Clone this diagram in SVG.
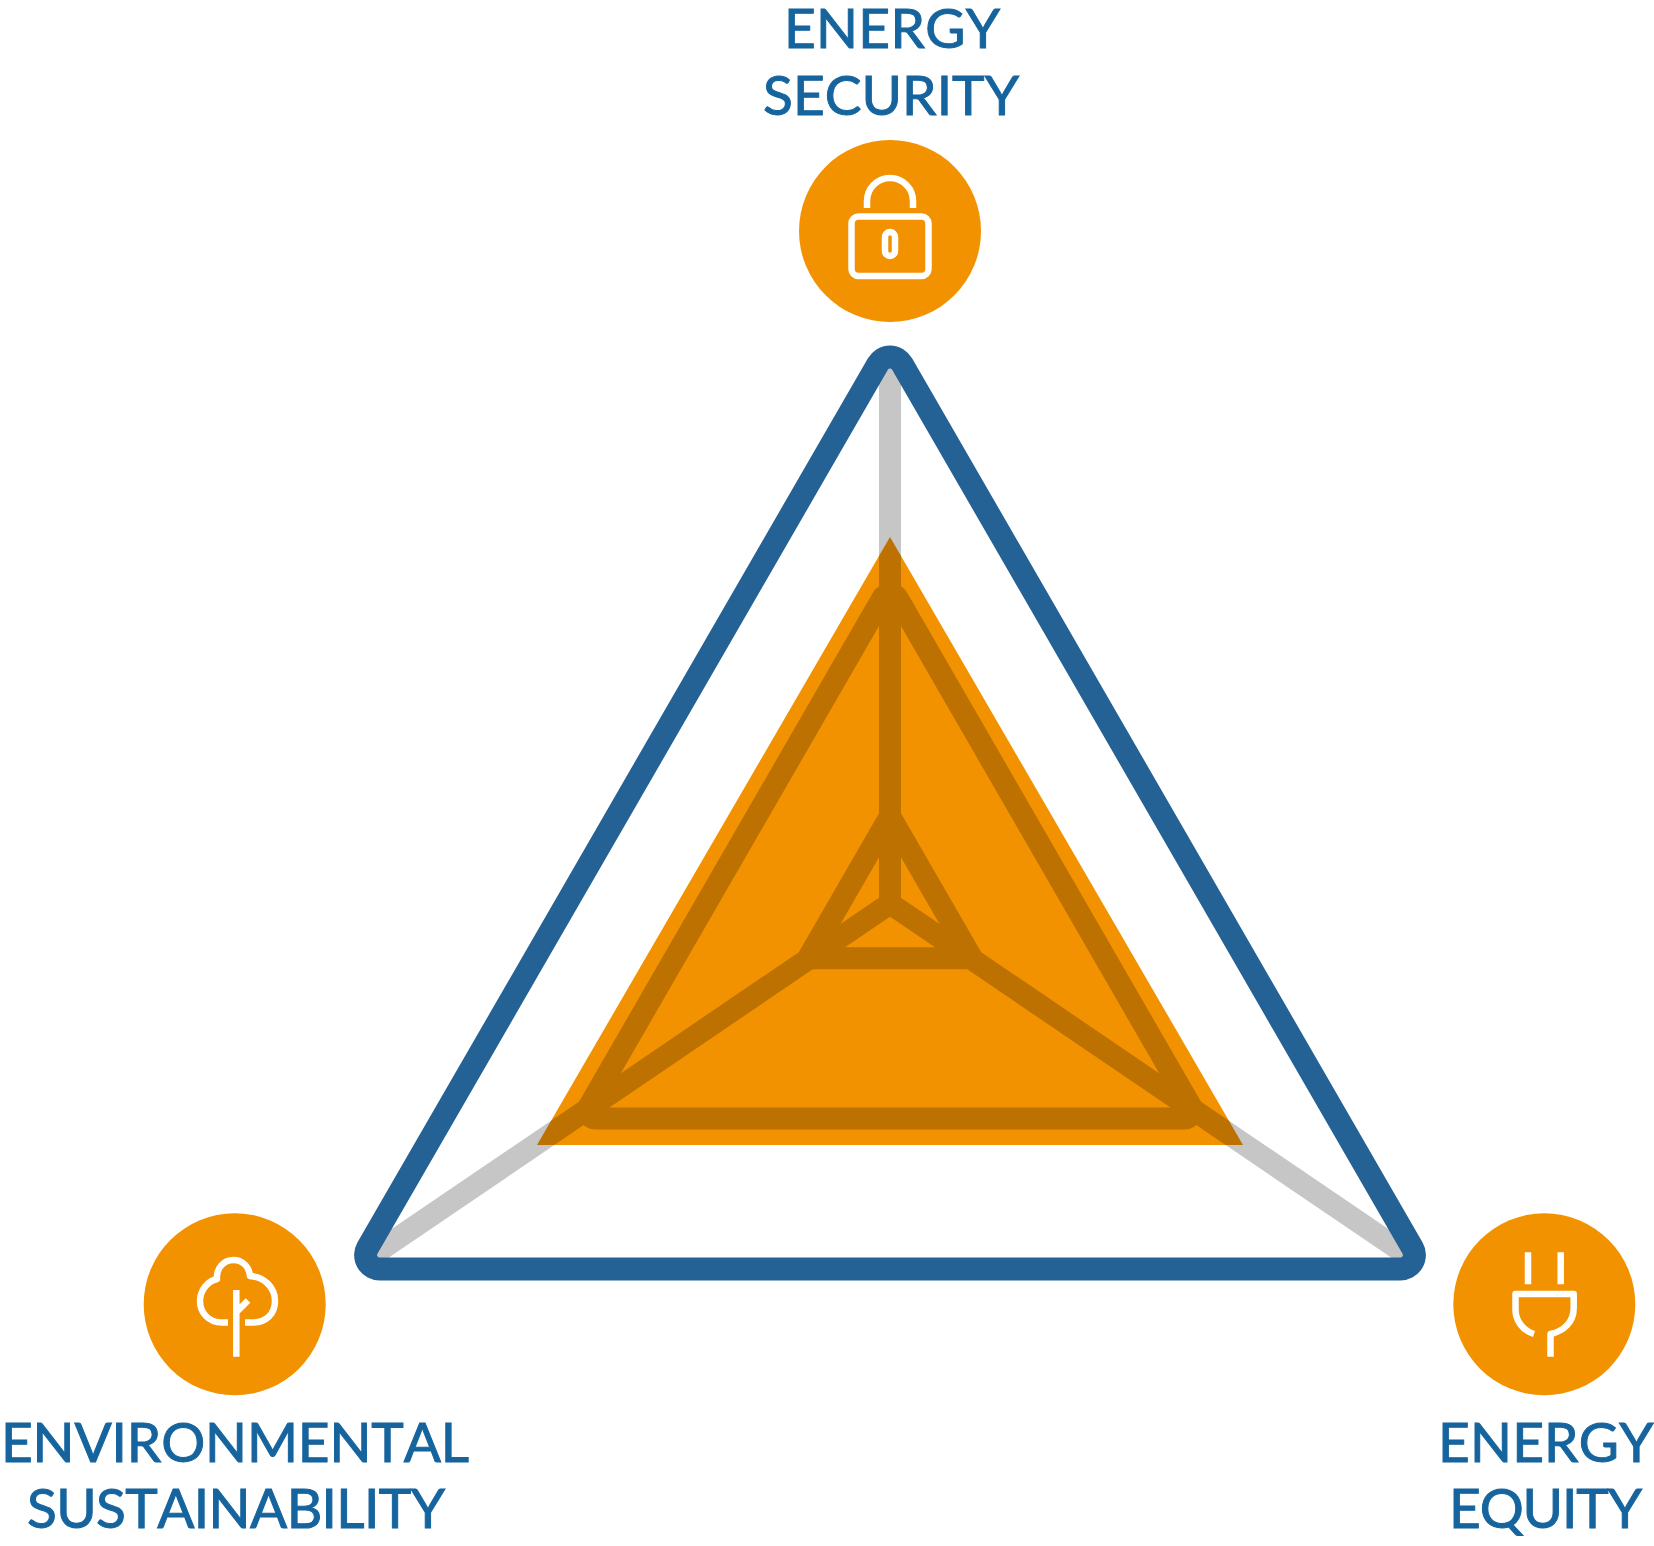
<svg xmlns="http://www.w3.org/2000/svg" width="1654" height="1546" viewBox="0 0 1654 1546">
<style>
.disc{fill:#f39200}
.icon{fill:none;stroke:#fff;stroke-width:6.5;stroke-linejoin:round}
.label{font-family:"Lato","Liberation Sans",sans-serif;font-size:55px;font-kerning:none;fill:#16649e;stroke:#16649e;stroke-width:1}
.grey{fill:none;stroke:#c6c6c6;stroke-width:22;stroke-linejoin:round}
</style>
<rect width="1654" height="1546" fill="#fff"/>
<g id="connectors">
<path class="grey" d="M890 903.5V360M890 903.5L1408 1255.7M890 903.5L372 1255.7"/>
<path class="grey" d="M897.8 598.5L1191.07 1106.5A8 8 0 0 1 1184.14 1118.5H595.86A8 8 0 0 1 588.93 1106.5L882.2 598.5A9 9 0 0 1 897.8 598.5Z"/>
<path class="grey" d="M890 816.3L972 958.3H808Z"/>
</g>
<polygon id="score-area" points="890,537 1243,1145 537,1145" fill="#f39200" style="mix-blend-mode:multiply"/>
<path id="outer-frame" fill="none" stroke="#246194" stroke-width="23" d="M902.1 364L1412.5 1248A14 14 0 0 1 1400.4 1269H379.6A14 14 0 0 1 367.5 1248L877.9 364A14 14 0 0 1 902.1 364Z"/>
<g id="energy-security">
<text class="label" x="784" y="48" textLength="216" lengthAdjust="spacing">ENERGY</text>
<text class="label" x="763" y="115" textLength="256" lengthAdjust="spacing">SECURITY</text>
<circle class="disc" cx="890" cy="231" r="91"/>
<path class="icon" d="M867 208V201A23 23 0 0 1 913 201V208"/>
<rect class="icon" x="851.5" y="216.5" width="77" height="59.5" rx="7"/>
<rect class="icon" x="885" y="232" width="10" height="24" rx="5"/>
</g>
<g id="environmental-sustainability">
<circle class="disc" cx="234.7" cy="1304.3" r="91"/>
<path class="icon" d="M228 1322.5H222C208 1322.5 200 1312 200 1301C200 1290 208 1281 217 1279C216 1268 224 1260 233.5 1260C242 1260 249 1266 250 1276C264 1277 275 1287 275 1301C275 1314 266 1322.5 253 1322.5H245"/>
<path class="icon" d="M236.3 1290V1356.7M236.5 1312L248 1300.5"/>
<text class="label" x="1" y="1461.7" textLength="468" lengthAdjust="spacing">ENVIRONMENTAL</text>
<text class="label" x="27" y="1528" textLength="418" lengthAdjust="spacing">SUSTAINABILITY</text>
</g>
<g id="energy-equity">
<circle class="disc" cx="1544.3" cy="1304.3" r="91"/>
<path class="icon" d="M1528 1252.3V1284.3M1560.7 1252.3V1284.3"/>
<path class="icon" d="M1534 1334C1522 1330 1515.5 1320 1515.5 1310V1294H1573.7V1308C1573.7 1322 1564 1331 1550.5 1334V1356.7"/>
<text class="label" x="1438" y="1461.7" textLength="215.5" lengthAdjust="spacing">ENERGY</text>
<text class="label" x="1449" y="1528" textLength="193" lengthAdjust="spacing">EQUITY</text>
</g>
</svg>
